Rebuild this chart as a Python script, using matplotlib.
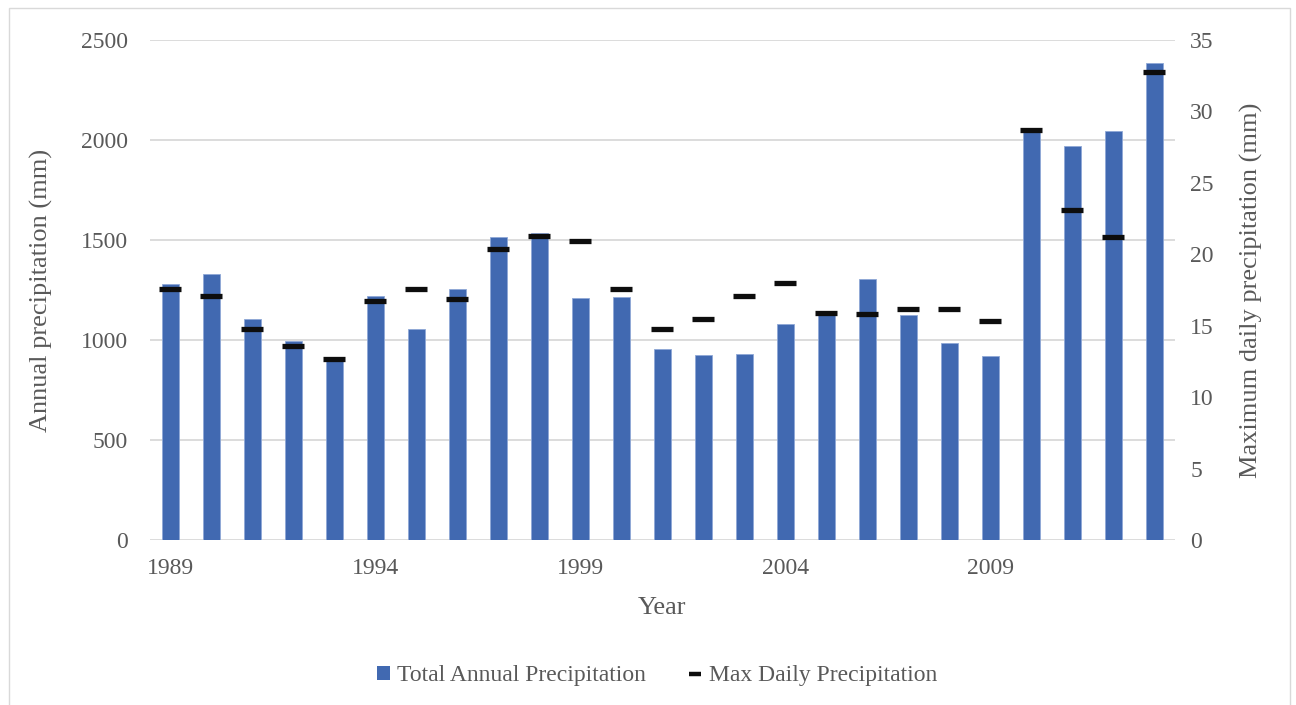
import numpy as np
import matplotlib
matplotlib.use('Agg')
import matplotlib.pyplot as plt
from matplotlib.lines import Line2D
from matplotlib.patches import Patch, Rectangle

## Data
years = list(range(1989, 2014))
annual_precip = [1278, 1330, 1103, 993, 900, 1220, 1057, 1253, 1515, 1533,
                 1210, 1217, 953, 925, 932, 1078, 1133, 1307, 1127, 983,
                 918, 2048, 1970, 2047, 2385]
max_daily = [17.6, 17.1, 14.75, 13.6, 12.65, 16.7, 17.55, 16.85, 20.35, 21.25,
             20.9, 17.6, 14.8, 15.45, 17.05, 17.97, 15.87, 15.8, 16.2, 16.15,
             15.3, 28.68, 23.08, 21.19, 32.74]
tick_years = [1989, 1994, 1999, 2004, 2009]

## Styles
plt.rcParams['font.family'] = ['Liberation Serif', 'DejaVu Serif']
txt_col = '#595959'
bar_col = '#4169B1'
grid_col = '#d9d9d9'

fig = plt.figure(figsize=(12.96, 7.05), dpi=100)
ax = fig.add_axes([150/1296, 1-540/705, 1025/1296, 500/705])
ax2 = ax.twinx()

x = np.arange(len(years))
ax.bar(x, annual_precip, width=0.41, color=bar_col, edgecolor='#8fa8d6', linewidth=0.6, zorder=3)
ax2.plot(x, max_daily, linestyle='none', marker='_', markersize=16, markeredgewidth=3.8,
         color='#0d0d0d', zorder=4)

ax.set_xlim(-0.5, len(years) - 0.5)
ax.set_ylim(0, 2500)
ax2.set_ylim(0, 35)
ax.set_yticks(np.arange(0, 2501, 500))
ax2.set_yticks(np.arange(0, 36, 5))
ax.set_xticks([years.index(t) for t in tick_years])
ax.set_xticklabels([str(t) for t in tick_years])

ax.yaxis.grid(True, color=grid_col, linewidth=1.3, zorder=0)
ax.set_axisbelow(True)
for a in (ax, ax2):
    for s in a.spines.values():
        s.set_visible(False)
    a.tick_params(length=0, labelsize=17, labelcolor=txt_col)
ax.tick_params(axis='y', pad=16)
ax.tick_params(axis='x', pad=13)
ax2.tick_params(axis='y', pad=11)

ax.set_ylabel('Annual precipitation (mm)', fontsize=19, color=txt_col, labelpad=20)
ax2.set_ylabel('Maximum daily precipitation (mm)', fontsize=19, color=txt_col, labelpad=19)
ax.set_xlabel('Year', fontsize=19, color=txt_col, labelpad=13)

handles = [Patch(facecolor=bar_col, edgecolor='none'),
           Line2D([], [], linestyle='none', marker='_', markersize=9, markeredgewidth=3.2, color='#0d0d0d')]
fig.legend(handles, ['Total Annual Precipitation', 'Max Daily Precipitation'],
           loc='center', bbox_to_anchor=(657/1296, 1-676/705), ncol=2, frameon=False,
           fontsize=17, labelcolor=txt_col, handlelength=0.55, handleheight=0.55,
           handletextpad=0.3, columnspacing=1.8)

## Outer frame
fig.patches.append(Rectangle((9/1296, -0.01), 1281/1296, 1-8/705+0.01, transform=fig.transFigure,
                             fill=False, edgecolor='#d9d9d9', linewidth=1.0))

fig.savefig('out.png', dpi=100)
